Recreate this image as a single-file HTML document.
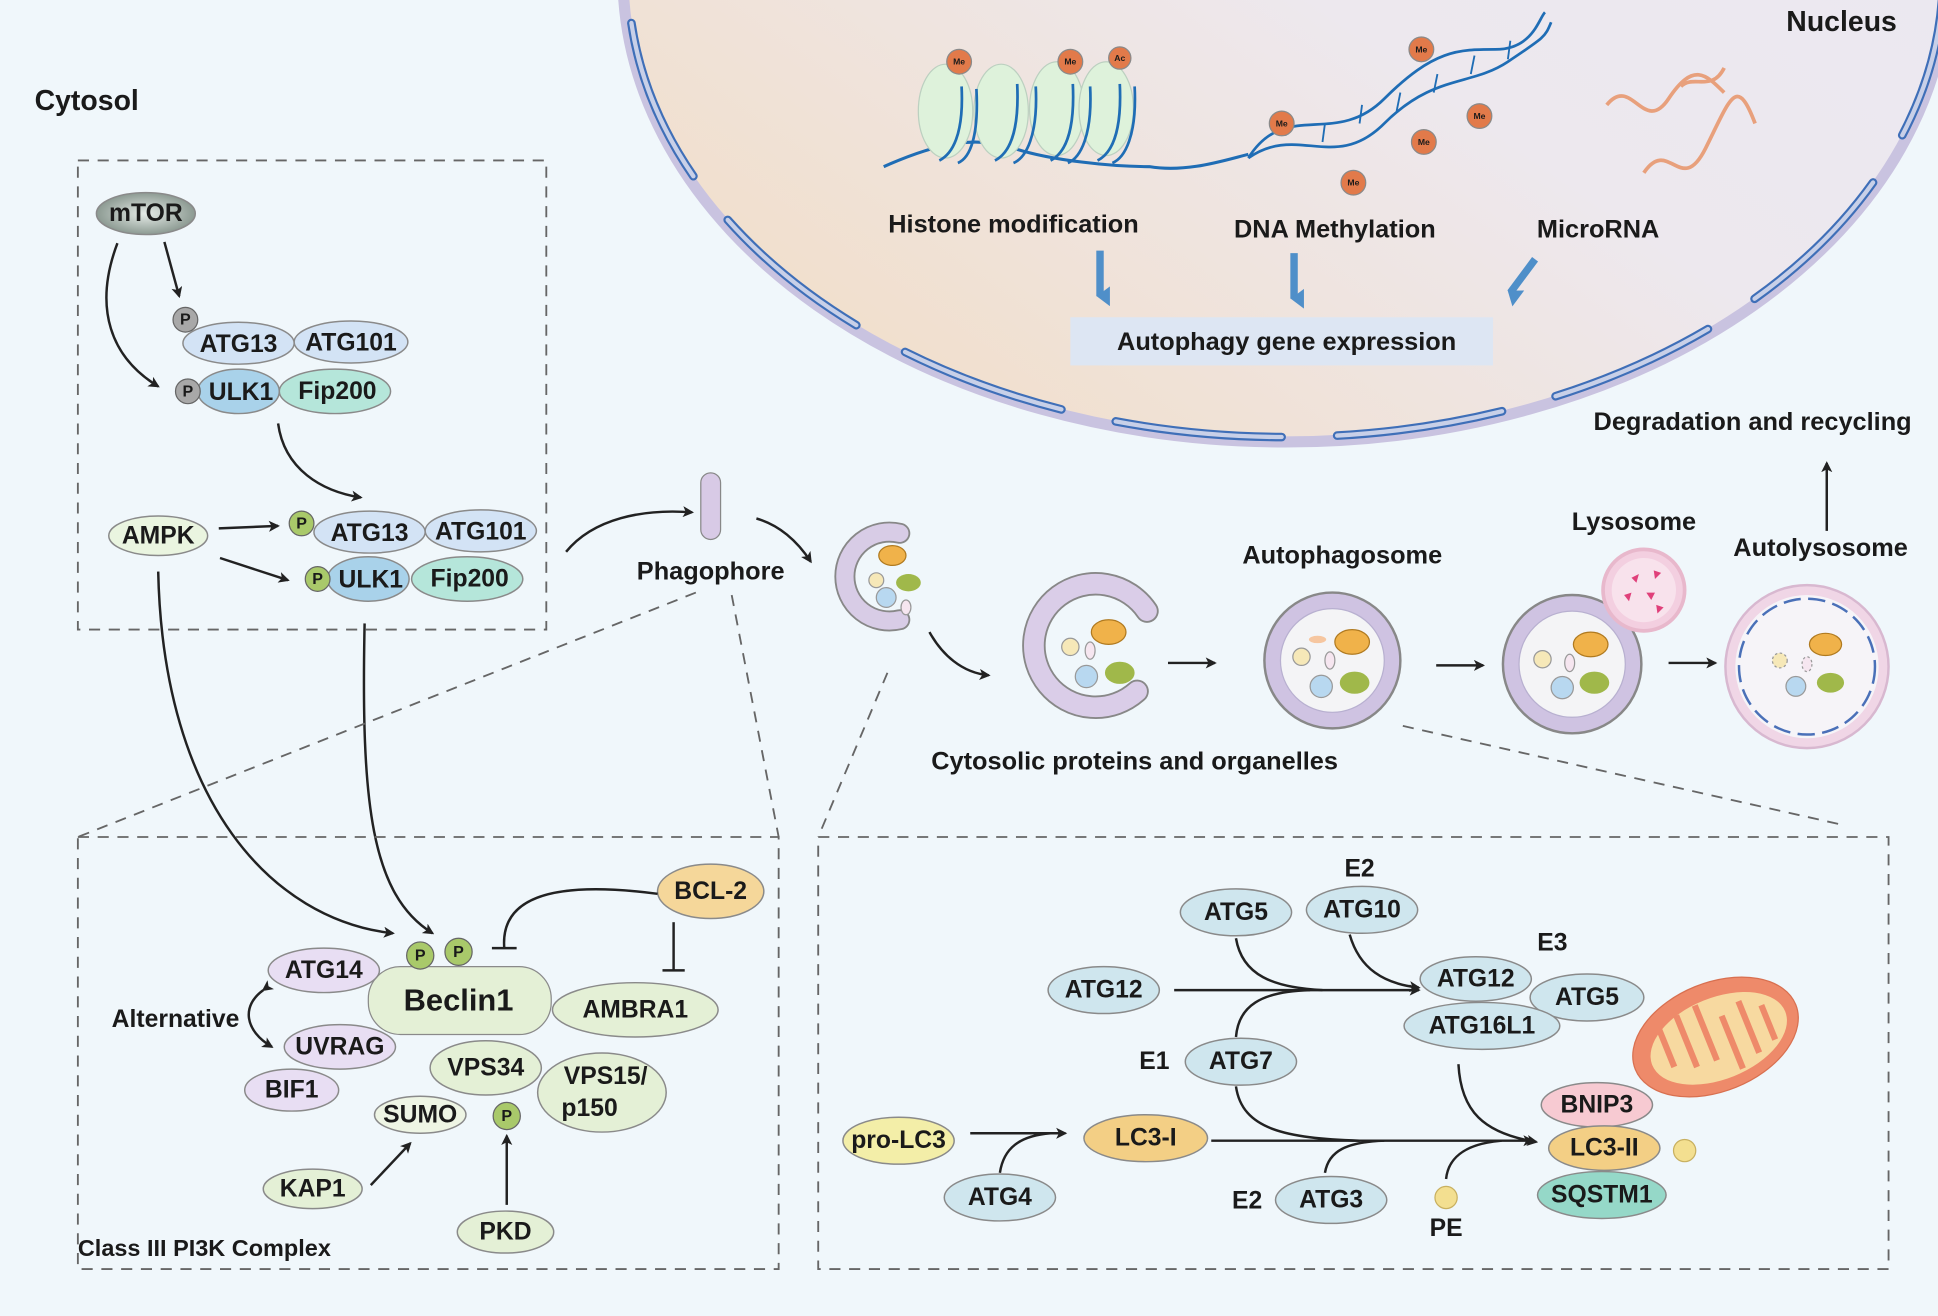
<!DOCTYPE html>
<html><head><meta charset="utf-8"><style>
html,body{margin:0;padding:0;background:#f0f7fb}
svg{display:block}
text{font-family:"Liberation Sans",Arial,sans-serif;font-weight:bold;fill:#1a1a1a;text-anchor:middle;dominant-baseline:central}
.n{font-size:20px}
.h{font-size:20.5px}
.e{stroke:#8a8a8a;stroke-width:1.2}
.a{fill:none;stroke:#222;stroke-width:2;marker-end:url(#ar)}
.d{fill:none;stroke:#666;stroke-width:1.5;stroke-dasharray:9 7}
</style></head><body>
<svg width="1938" height="1316" viewBox="0 0 1568 1066" preserveAspectRatio="none" xmlns="http://www.w3.org/2000/svg">
<defs>
<marker id="ar" viewBox="0 0 12 12" refX="10" refY="6" markerWidth="9" markerHeight="9" orient="auto" markerUnits="userSpaceOnUse"><path d="M0,0 L12,6 L0,12 L3,6 Z" fill="#222"/></marker>
<linearGradient id="nuc" x1="0" x2="1" y1="1" y2="0"><stop offset="0" stop-color="#f3dcc0"/><stop offset="0.5" stop-color="#ede8ee"/><stop offset="1" stop-color="#e9e8f3"/></linearGradient>
<radialGradient id="mt"><stop offset="0" stop-color="#e6ece8"/><stop offset="1" stop-color="#8c9a92"/></radialGradient>
<marker id="ba" viewBox="0 0 12 12" refX="6" refY="10" markerWidth="16" markerHeight="16" orient="auto" markerUnits="userSpaceOnUse"><path d="M0,4 L12,4 L6,12 Z" fill="#4f8fc9"/></marker>
</defs>
<rect width="1568" height="1066" fill="#f0f7fb"/>
<!-- nucleus -->
<ellipse cx="1040" cy="-20" rx="536" ry="378" fill="url(#nuc)" stroke="#c9c3e0" stroke-width="9"/>
<ellipse cx="1040" cy="-20" rx="532" ry="374" fill="none" stroke="#3f6fb8" stroke-width="7" stroke-dasharray="135 45" stroke-linecap="round"/>
<ellipse cx="1040" cy="-20" rx="532" ry="374" fill="none" stroke="#c8d0e8" stroke-width="3.5" stroke-dasharray="135 45" stroke-linecap="round"/>
<text x="1490" y="18" style="font-size:23px">Nucleus</text>
<!-- chromatin -->
<path d="M715,135 C760,115 790,110 820,120 S900,135 930,135 C960,140 990,130 1010,125" fill="none" stroke="#1f6db5" stroke-width="2.5"/>
<g fill="#def2db" stroke="#bcd0c0" stroke-width="1">
<ellipse cx="765" cy="90" rx="22" ry="38"/><ellipse cx="810" cy="90" rx="22" ry="38"/><ellipse cx="855" cy="88" rx="22" ry="38"/><ellipse cx="895" cy="88" rx="22" ry="38"/></g>
<g fill="none" stroke="#1f6db5" stroke-width="2.2">
<path d="M778,70 C780,110 770,125 760,130"/><path d="M790,72 C792,110 785,128 775,132"/><path d="M823,68 C825,110 815,125 805,130"/><path d="M838,70 C840,110 830,128 820,132"/><path d="M868,68 C870,110 860,125 850,130"/><path d="M882,70 C884,110 874,128 864,132"/><path d="M906,68 C908,110 898,125 888,130"/><path d="M918,70 C920,110 910,128 900,132"/>
<path d="M1010,128 C1050,100 1080,140 1120,100 S1190,70 1220,50 S1250,30 1255,18"/>
<path d="M1010,128 C1040,80 1080,120 1120,80 S1180,40 1210,40 S1245,15 1250,10"/>
</g>
<g stroke="#1f6db5" stroke-width="1.5"><line x1="1040" y1="110" x2="1042" y2="95"/><line x1="1070" y1="115" x2="1072" y2="100"/><line x1="1100" y1="100" x2="1102" y2="85"/><line x1="1130" y1="90" x2="1133" y2="75"/><line x1="1160" y1="75" x2="1163" y2="60"/><line x1="1190" y1="60" x2="1193" y2="45"/><line x1="1220" y1="48" x2="1222" y2="33"/></g>
<g fill="#e27a4a" stroke="#8a8a8a" stroke-width="1">
<circle cx="776" cy="50" r="10"/><circle cx="866" cy="50" r="10"/><circle cx="906" cy="47" r="9"/><circle cx="1037" cy="100" r="10"/><circle cx="1150" cy="40" r="10"/><circle cx="1152" cy="115" r="10"/><circle cx="1197" cy="94" r="10"/><circle cx="1095" cy="148" r="10"/></g>
<g style="font-size:7px"><text x="776" y="50">Me</text><text x="866" y="50">Me</text><text x="906" y="47">Ac</text><text x="1037" y="100">Me</text><text x="1150" y="40">Me</text><text x="1152" y="115">Me</text><text x="1197" y="94">Me</text><text x="1095" y="148">Me</text></g>
<g fill="none" stroke="#e8a07c" stroke-width="3"><path d="M1300,85 C1320,60 1330,110 1350,80 S1380,60 1395,75"/><path d="M1330,140 C1350,110 1360,160 1380,120 S1405,60 1420,100"/><path d="M1360,70 C1370,60 1385,75 1395,55"/></g>
<text x="820" y="182" class="h">Histone modification</text>
<text x="1080" y="186" class="h">DNA Methylation</text>
<text x="1293" y="186" class="h">MicroRNA</text>
<g stroke="#4f8fc9" stroke-width="6" marker-end="url(#ba)"><line x1="890" y1="203" x2="890" y2="240"/><line x1="1047" y1="205" x2="1047" y2="242"/><line x1="1242" y1="210" x2="1222" y2="237"/></g>
<rect x="866" y="257" width="342" height="39" fill="#dde6f3"/>
<text x="1041" y="277" class="h">Autophagy gene expression</text>
<!-- cytosol -->
<text x="28" y="82" style="font-size:23px;text-anchor:start">Cytosol</text>
<rect x="63" y="130" width="379" height="380" fill="#f1eef8" class="d"/>
<ellipse cx="118" cy="173" rx="40" ry="17" fill="url(#mt)" class="e"/><text x="118" y="173" class="n">mTOR</text>
<ellipse cx="193" cy="278" rx="45" ry="17" fill="#d3e3f5" class="e"/><ellipse cx="284" cy="277" rx="46" ry="17" fill="#d3e3f5" class="e"/>
<circle cx="150" cy="259" r="10" fill="#a8a8a8" stroke="#666"/><text x="150" y="259" style="font-size:13px">P</text>
<text x="193" y="279" class="n">ATG13</text><text x="284" y="278" class="n">ATG101</text>
<ellipse cx="193" cy="317" rx="33" ry="18" fill="#a9d2ea" class="e"/><ellipse cx="271" cy="317" rx="45" ry="18" fill="#b5e6da" class="e"/>
<circle cx="152" cy="317" r="10" fill="#a8a8a8" stroke="#666"/><text x="152" y="317" style="font-size:13px">P</text>
<text x="195" y="318" class="n">ULK1</text><text x="273" y="317" class="n">Fip200</text>
<ellipse cx="128" cy="434" rx="40" ry="16" fill="#eaf5e0" class="e"/><text x="128" y="434" class="n">AMPK</text>
<ellipse cx="299" cy="431" rx="45" ry="17" fill="#d3e3f5" class="e"/><ellipse cx="389" cy="430" rx="45" ry="17" fill="#d3e3f5" class="e"/>
<circle cx="244" cy="424" r="10" fill="#a9c96a" stroke="#666"/><text x="244" y="424" style="font-size:13px">P</text>
<text x="299" y="432" class="n">ATG13</text><text x="389" y="431" class="n">ATG101</text>
<ellipse cx="298" cy="469" rx="33" ry="18" fill="#a9d2ea" class="e"/><ellipse cx="378" cy="469" rx="45" ry="18" fill="#b5e6da" class="e"/>
<circle cx="257" cy="469" r="10" fill="#a9c96a" stroke="#666"/><text x="257" y="469" style="font-size:13px">P</text>
<text x="300" y="470" class="n">ULK1</text><text x="380" y="469" class="n">Fip200</text>
<path class="a" d="M133,196 L145,240"/>
<path class="a" d="M95,197 C75,250 90,290 128,313"/>
<path class="a" d="M225,343 C230,380 260,398 292,403"/>
<path class="a" d="M177,428 L225,426"/>
<path class="a" d="M178,452 L233,470"/>
<path class="a" d="M128,463 C132,650 220,745 318,756"/>
<path class="a" d="M295,505 C292,650 300,725 350,756"/>
<!-- phagophore -->
<rect x="567" y="383" width="16" height="54" rx="8" fill="#d8cae6" stroke="#888"/>
<text x="575" y="463" class="h">Phagophore</text>
<path class="a" d="M458,447 C480,420 520,412 560,415"/>
<path class="a" d="M612,420 C630,425 645,438 656,455"/>
<path d="M728,432 A36,36 0 1 0 728,502" fill="none" stroke="#888" stroke-width="17" stroke-linecap="round"/>
<path d="M728,432 A36,36 0 1 0 728,502" fill="none" stroke="#d8cce6" stroke-width="14" stroke-linecap="round"/>
<ellipse cx="722" cy="450" rx="11" ry="8" fill="#f0b24a" stroke="#b07a20"/><ellipse cx="735" cy="472" rx="10" ry="7" fill="#a0b84a"/><circle cx="709" cy="470" r="6" fill="#f6e8b8" stroke="#999"/><circle cx="717" cy="484" r="8" fill="#b8d8f0" stroke="#999"/><ellipse cx="733" cy="492" rx="4" ry="6" fill="#f6e6f0" stroke="#999"/>
<path class="a" d="M752,512 C762,530 778,545 800,547"/>
<path d="M928,495 A50,50 0 1 0 920,560" fill="none" stroke="#888" stroke-width="19" stroke-linecap="round"/>
<path d="M928,495 A50,50 0 1 0 920,560" fill="none" stroke="#dacde8" stroke-width="16" stroke-linecap="round"/>
<ellipse cx="897" cy="512" rx="14" ry="10" fill="#f0b24a" stroke="#b07a20"/><ellipse cx="906" cy="545" rx="12" ry="9" fill="#a0b84a"/><circle cx="866" cy="524" r="7" fill="#f6e8b8" stroke="#999"/><circle cx="879" cy="548" r="9" fill="#b8d8f0" stroke="#999"/><ellipse cx="882" cy="527" rx="4" ry="7" fill="#f6e6f0" stroke="#999"/>
<path class="a" d="M945,537 L983,537"/>
<circle cx="1078" cy="535" r="55" fill="#cfc3e2" stroke="#888" stroke-width="2"/><circle cx="1078" cy="535" r="42" fill="#f4f4f6" stroke="#b8b0d0"/>
<ellipse cx="1094" cy="520" rx="14" ry="10" fill="#f0b24a" stroke="#b07a20"/><ellipse cx="1096" cy="553" rx="12" ry="9" fill="#a0b84a"/><circle cx="1053" cy="532" r="7" fill="#f6e8b8" stroke="#999"/><circle cx="1069" cy="556" r="9" fill="#b8d8f0" stroke="#999"/><ellipse cx="1076" cy="535" rx="4" ry="7" fill="#f6e6f0" stroke="#999"/><ellipse cx="1066" cy="518" rx="7" ry="3" fill="#f6c6a0"/>
<path class="a" d="M1162,539 L1200,539"/>
<circle cx="1272" cy="538" r="56" fill="#cfc3e2" stroke="#888" stroke-width="2"/><circle cx="1272" cy="538" r="43" fill="#f4f4f6" stroke="#b8b0d0"/>
<ellipse cx="1287" cy="522" rx="14" ry="10" fill="#f0b24a" stroke="#b07a20"/><ellipse cx="1290" cy="553" rx="12" ry="9" fill="#a0b84a"/><circle cx="1248" cy="534" r="7" fill="#f6e8b8" stroke="#999"/><circle cx="1264" cy="557" r="9" fill="#b8d8f0" stroke="#999"/><ellipse cx="1270" cy="537" rx="4" ry="7" fill="#f6e6f0" stroke="#999"/>
<circle cx="1330" cy="478" r="33" fill="#f3cfe0" stroke="#e8b8cc" stroke-width="3"/><circle cx="1330" cy="478" r="26" fill="#f8e2ec"/>
<g fill="#e0407a"><path d="M1320,468 l6,-3 -2,7z"/><path d="M1338,462 l6,2 -5,5z"/><path d="M1314,482 l6,-2 -2,7z"/><path d="M1332,480 l7,0 -3,6z"/><path d="M1340,490 l6,2 -5,5z"/></g>
<text x="1322" y="423" class="h">Lysosome</text>
<path class="a" d="M1350,537 L1388,537"/>
<circle cx="1462" cy="540" r="66" fill="#f0d6e6" stroke="#d8b8d0" stroke-width="2"/><circle cx="1462" cy="540" r="58" fill="#f6f4f8"/><circle cx="1462" cy="540" r="55" fill="none" stroke="#4a70b8" stroke-width="2" stroke-dasharray="14 6"/>
<ellipse cx="1477" cy="522" rx="13" ry="9" fill="#f0b24a" stroke="#b07a20"/><ellipse cx="1481" cy="553" rx="11" ry="8" fill="#a0b84a"/><circle cx="1440" cy="535" r="6" fill="#f6e8b8" stroke="#999" stroke-dasharray="2 2"/><circle cx="1453" cy="556" r="8" fill="#b8d8f0" stroke="#999"/><ellipse cx="1462" cy="538" rx="4" ry="6" fill="#f6e6f0" stroke="#999" stroke-dasharray="2 2"/>
<text x="1473" y="444" class="h">Autolysosome</text>
<path class="a" d="M1478,430 L1478,375"/>
<text x="1418" y="342" class="h">Degradation and recycling</text>
<text x="1086" y="450" class="h">Autophagosome</text>
<text x="918" y="617" class="h">Cytosolic proteins and organelles</text>
<!-- zoom dashed lines -->
<line class="d" x1="563" y1="480" x2="63" y2="678"/><line class="d" x1="592" y1="482" x2="630" y2="678"/>
<line class="d" x1="718" y1="545" x2="662" y2="678"/><line class="d" x1="1135" y1="588" x2="1490" y2="668"/>
<!-- bottom left box -->
<rect x="63" y="678" width="567" height="350" fill="#f2f6ee" class="d"/>
<text x="63" y="1011" style="font-size:19px;text-anchor:start">Class III PI3K Complex</text>
<ellipse cx="575" cy="722" rx="43" ry="22" fill="#f5d79a" class="e"/><text x="575" y="722" class="n">BCL-2</text>
<path d="M532,724 C440,712 405,730 408,768" fill="none" stroke="#222" stroke-width="2"/><line x1="398" y1="768" x2="418" y2="768" stroke="#222" stroke-width="2"/>
<line x1="545" y1="747" x2="545" y2="786" stroke="#222" stroke-width="2"/><line x1="536" y1="786" x2="554" y2="786" stroke="#222" stroke-width="2"/>
<ellipse cx="514" cy="818" rx="67" ry="22" fill="#e4f0d6" class="e"/><text x="514" y="818" class="n">AMBRA1</text>
<ellipse cx="487" cy="885" rx="52" ry="32" fill="#e4f0d6" class="e"/><text x="490" y="872" class="n">VPS15/</text><text x="477" y="898" class="n">p150</text>
<ellipse cx="393" cy="865" rx="45" ry="22" fill="#e4f0d6" class="e"/><text x="393" y="865" class="n">VPS34</text>
<rect x="298" y="783" width="148" height="55" rx="26" fill="#e4f0d6" stroke="#8a8a8a"/><text x="371" y="810" style="font-size:25px">Beclin1</text>
<circle cx="340" cy="774" r="11" fill="#a9c96a" stroke="#666"/><text x="340" y="774" style="font-size:13px">P</text>
<circle cx="371" cy="771" r="11" fill="#a9c96a" stroke="#666"/><text x="371" y="771" style="font-size:13px">P</text>
<ellipse cx="236" cy="883" rx="38" ry="17" fill="#e8def3" class="e"/><text x="236" y="883" class="n">BIF1</text>
<ellipse cx="275" cy="848" rx="45" ry="18" fill="#e8def3" class="e"/><text x="275" y="848" class="n">UVRAG</text>
<ellipse cx="262" cy="786" rx="45" ry="18" fill="#e8def3" class="e"/><text x="262" y="786" class="n">ATG14</text>
<text x="142" y="826" class="n">Alternative</text>
<path d="M213,802 C195,815 198,835 220,848" fill="none" stroke="#222" stroke-width="2" marker-end="url(#ar)" marker-start="url(#ar)"/>
<ellipse cx="340" cy="903" rx="37" ry="15" fill="#eef5e4" class="e"/><text x="340" y="903" class="n">SUMO</text>
<circle cx="410" cy="904" r="11" fill="#a9c96a" stroke="#666"/><text x="410" y="904" style="font-size:13px">P</text>
<ellipse cx="253" cy="963" rx="40" ry="16" fill="#e4f0d6" class="e"/><text x="253" y="963" class="n">KAP1</text>
<ellipse cx="409" cy="998" rx="39" ry="17" fill="#e4f0d6" class="e"/><text x="409" y="998" class="n">PKD</text>
<path class="a" d="M300,960 L332,926"/><path class="a" d="M410,976 L410,920"/>
<!-- bottom right box -->
<rect x="662" y="678" width="866" height="350" fill="#e4ebf5" class="d"/>
<text x="1100" y="704" class="n">E2</text><text x="1256" y="764" class="n">E3</text><text x="934" y="860" class="n">E1</text><text x="1009" y="973" class="n">E2</text>
<g fill="none" stroke="#222" stroke-width="2">
<path d="M1000,760 C1005,790 1030,800 1070,802"/>
<path d="M1000,840 C1002,815 1020,803 1060,802"/>
<path d="M1000,880 C1005,915 1040,922 1100,924"/>
<path d="M809,950 C812,930 825,920 850,918"/>
<path d="M1072,950 C1075,932 1090,925 1120,924"/>
<path d="M1170,955 C1172,935 1190,926 1215,924"/>
</g>
<path class="a" d="M950,802 L1148,802"/>
<path class="a" d="M1092,757 C1100,785 1120,797 1148,800"/>
<path class="a" d="M785,918 L862,918"/>
<path class="a" d="M980,924 L1240,924"/>
<path class="a" d="M1180,862 C1182,900 1200,918 1243,925"/>
<ellipse cx="1000" cy="739" rx="45" ry="19" fill="#cfe6ee" class="e"/><text x="1000" y="739" class="n">ATG5</text>
<ellipse cx="1102" cy="737" rx="45" ry="19" fill="#cfe6ee" class="e"/><text x="1102" y="737" class="n">ATG10</text>
<ellipse cx="893" cy="802" rx="45" ry="19" fill="#cfe6ee" class="e"/><text x="893" y="802" class="n">ATG12</text>
<ellipse cx="1284" cy="808" rx="46" ry="19" fill="#cfe6ee" class="e"/>
<ellipse cx="1194" cy="793" rx="45" ry="18" fill="#cfe6ee" class="e"/>
<ellipse cx="1199" cy="831" rx="63" ry="19" fill="#cfe6ee" class="e"/>
<text x="1194" y="793" class="n">ATG12</text><text x="1284" y="808" class="n">ATG5</text><text x="1199" y="831" class="n">ATG16L1</text>
<ellipse cx="1004" cy="860" rx="45" ry="19" fill="#cfe6ee" class="e"/><text x="1004" y="860" class="n">ATG7</text>
<ellipse cx="727" cy="924" rx="45" ry="19" fill="#f3eea8" class="e"/><text x="727" y="924" class="n">pro-LC3</text>
<ellipse cx="809" cy="970" rx="45" ry="19" fill="#cfe6ee" class="e"/><text x="809" y="970" class="n">ATG4</text>
<ellipse cx="927" cy="922" rx="50" ry="19" fill="#f3cf85" class="e"/><text x="927" y="922" class="n">LC3-I</text>
<ellipse cx="1077" cy="972" rx="45" ry="19" fill="#cfe6ee" class="e"/><text x="1077" y="972" class="n">ATG3</text>
<circle cx="1170" cy="970" r="9" fill="#f3df90" stroke="#c8b060"/><text x="1170" y="995" class="n">PE</text>
<g transform="rotate(-22 1388 840)"><ellipse cx="1388" cy="840" rx="70" ry="44" fill="#ee8a6a" stroke="#d87050"/><ellipse cx="1390" cy="842" rx="58" ry="33" fill="#f7d9a0"/>
<g stroke="#ee8a6a" stroke-width="5" fill="none"><path d="M1348,815 v35"/><path d="M1365,812 v45"/><path d="M1382,810 v48"/><path d="M1399,826 v46"/><path d="M1416,820 v45"/><path d="M1432,830 v30"/></g></g>
<ellipse cx="1292" cy="895" rx="45" ry="18" fill="#f7cad2" class="e"/><text x="1292" y="895" class="n">BNIP3</text>
<ellipse cx="1298" cy="930" rx="45" ry="18" fill="#f3cf85" class="e"/><text x="1298" y="930" class="n">LC3-II</text>
<circle cx="1363" cy="932" r="9" fill="#f3df90" stroke="#c8b060"/>
<ellipse cx="1296" cy="968" rx="52" ry="19" fill="#95d8c8" class="e"/><text x="1296" y="968" class="n">SQSTM1</text>
</svg>
</body></html>
